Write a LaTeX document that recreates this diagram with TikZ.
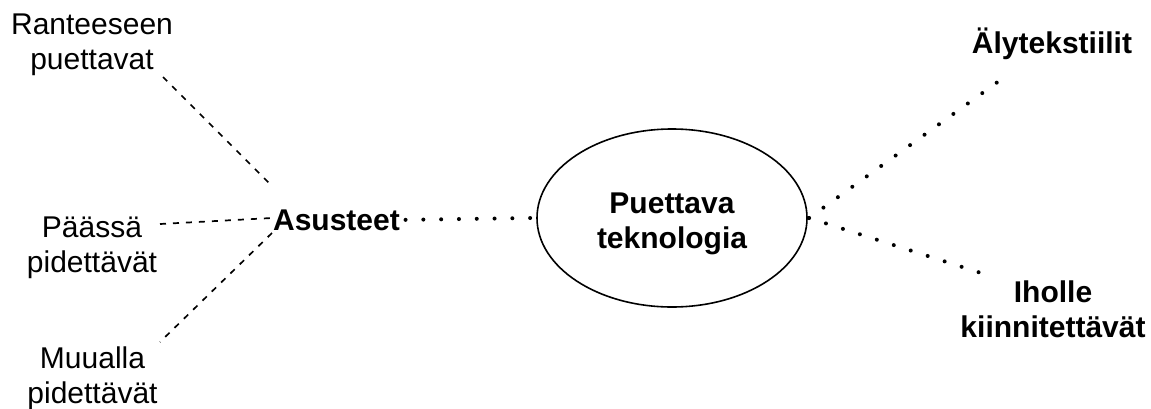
\documentclass[tikz,border=0pt]{standalone}
\usepackage{fontspec}
\setmainfont{Liberation Sans}
\usetikzlibrary{shapes.geometric}
\begin{document}
\begin{tikzpicture}[x=1pt,y=-1pt,
  lbl/.style={inner sep=0pt, outer sep=0pt, align=center, anchor=base,
    font=\fontsize{30}{35}\selectfont},
  lblb/.style={lbl, font=\fontsize{30}{35}\selectfont\bfseries},
  dashln/.style={line width=1.7pt, dash pattern=on 6pt off 7pt},
  dotln/.style={line width=4pt, line cap=round, dash pattern=on 0pt off 17.8pt},
  techshape/.style={draw, ellipse, line width=1.6pt, inner sep=0pt, outer sep=0pt,
    minimum width=270pt, minimum height=178pt}]
\useasboundingbox (0,0) rectangle (1151,408);
% nodes (base anchor = baseline of the last line)
\node[lbl] (rant) at (92,69) {Ranteeseen\\puettavat};
\node[lbl] (paa) at (92,272) {Päässä\\pidettävät};
\node[lbl] (muu) at (92.5,403) {Muualla\\pidettävät};
\node[lblb] (asus) at (336.5,230) {Asusteet};
\node[techshape] (tech) at (672,218) {};
\node[lblb] (techtxt) at (672,248) {Puettava\\teknologia};
\node[lblb] (aly) at (1052,53) {Älytekstiilit};
\node[lblb] (iho) at (1053,337) {Iholle\\kiinnitettävät};
% connector end points
\coordinate (rantEnd) at (163,77);
\coordinate (paaEnd) at (160,224);
\coordinate (muuEnd) at (160,342);
\coordinate (asusA) at (271,185);
\coordinate (asusB) at (272,218);
\coordinate (asusC) at (272,233);
\coordinate (alyEnd) at (999,81);
\coordinate (ihoEnd) at (981,273);
% connectors
\draw[dashln] (rantEnd) -- (asusA);
\draw[dashln] (paaEnd) -- (asusB);
\draw[dashln] (asusC) -- (muuEnd);
\draw[dotln] ([xshift=5.7pt]asus.east) -- ([xshift=-6pt]tech.west);
\draw[dotln] ([xshift=2pt]tech.east) -- (alyEnd);
\draw[dotln] ([xshift=2pt]tech.east) -- (ihoEnd);
\end{tikzpicture}
\end{document}
